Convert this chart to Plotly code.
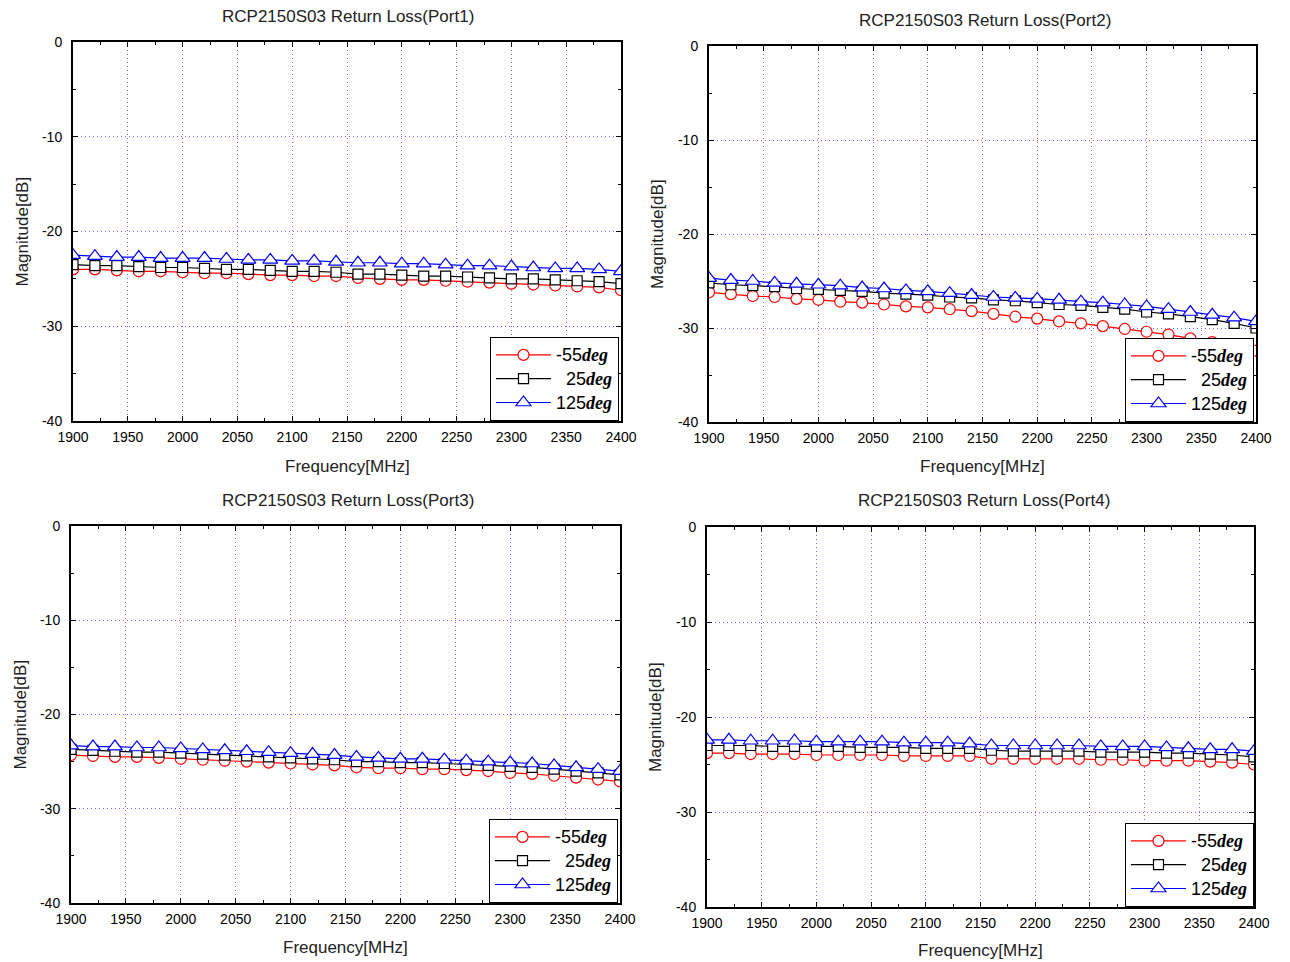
import plotly.graph_objects as go

freq = [1900, 1920, 1940, 1960, 1980, 2000, 2020, 2040, 2060, 2080, 2100, 2120, 2140,
        2160, 2180, 2200, 2220, 2240, 2260, 2280, 2300, 2320, 2340, 2360, 2380, 2400]

p1_m55 = [-24.0, -24.0, -24.1, -24.2, -24.2, -24.3, -24.4, -24.4, -24.5, -24.6, -24.6, -24.7, -24.7,
          -24.9, -25.0, -25.1, -25.1, -25.2, -25.3, -25.4, -25.5, -25.6, -25.7, -25.8, -25.9, -26.2]
p1_25 = [-23.5, -23.6, -23.6, -23.7, -23.8, -23.8, -23.9, -24.0, -24.0, -24.1, -24.2, -24.2, -24.3,
         -24.5, -24.5, -24.6, -24.7, -24.7, -24.8, -24.9, -25.0, -25.0, -25.1, -25.2, -25.3, -25.5]
p1_125 = [-22.5, -22.6, -22.7, -22.7, -22.8, -22.8, -22.8, -22.9, -23.0, -23.0, -23.1, -23.1, -23.2,
          -23.3, -23.3, -23.4, -23.4, -23.5, -23.6, -23.6, -23.7, -23.8, -23.9, -23.9, -24.0, -24.2]

p2_m55 = [-26.2, -26.4, -26.6, -26.7, -26.9, -27.0, -27.2, -27.3, -27.5, -27.7, -27.8, -28.0, -28.2,
          -28.5, -28.8, -29.0, -29.3, -29.5, -29.8, -30.1, -30.4, -30.7, -31.1, -31.5, -31.9, -32.4]
p2_25 = [-25.2, -25.4, -25.5, -25.6, -25.8, -25.9, -26.0, -26.1, -26.3, -26.4, -26.5, -26.7, -26.8,
         -27.0, -27.1, -27.3, -27.5, -27.6, -27.8, -28.0, -28.3, -28.5, -28.8, -29.1, -29.5, -30.0]
p2_125 = [-24.7, -24.9, -25.0, -25.2, -25.3, -25.4, -25.5, -25.7, -25.8, -26.0, -26.1, -26.3, -26.5,
          -26.7, -26.8, -26.9, -27.0, -27.2, -27.3, -27.5, -27.7, -28.0, -28.3, -28.6, -28.9, -29.3]

p3_m55 = [-24.3, -24.4, -24.5, -24.5, -24.6, -24.7, -24.8, -24.9, -25.0, -25.1, -25.2, -25.3, -25.4,
          -25.6, -25.7, -25.7, -25.8, -25.8, -25.9, -26.0, -26.2, -26.3, -26.5, -26.7, -26.9, -27.1]
p3_25 = [-23.7, -23.8, -23.9, -24.0, -24.0, -24.1, -24.2, -24.3, -24.4, -24.5, -24.6, -24.7, -24.8,
         -25.0, -25.0, -25.1, -25.1, -25.2, -25.3, -25.4, -25.5, -25.6, -25.8, -26.0, -26.2, -26.4]
p3_125 = [-23.3, -23.4, -23.4, -23.5, -23.5, -23.6, -23.7, -23.8, -23.9, -24.0, -24.1, -24.2, -24.3,
          -24.5, -24.6, -24.7, -24.7, -24.8, -24.9, -25.0, -25.1, -25.2, -25.4, -25.6, -25.8, -26.0]

p4_m55 = [-23.8, -23.8, -23.9, -23.9, -23.9, -24.0, -24.0, -24.0, -24.0, -24.1, -24.1, -24.1, -24.1,
          -24.4, -24.4, -24.4, -24.4, -24.4, -24.5, -24.5, -24.6, -24.6, -24.6, -24.7, -24.8, -25.0]
p4_25 = [-23.0, -23.0, -23.0, -23.1, -23.1, -23.1, -23.1, -23.2, -23.2, -23.2, -23.3, -23.3, -23.3,
         -23.5, -23.6, -23.6, -23.6, -23.6, -23.7, -23.7, -23.7, -23.8, -23.8, -23.9, -24.0, -24.2]
p4_125 = [-22.4, -22.4, -22.5, -22.5, -22.5, -22.6, -22.6, -22.6, -22.6, -22.7, -22.7, -22.7, -22.8,
          -23.0, -23.0, -23.0, -23.0, -23.0, -23.1, -23.1, -23.1, -23.2, -23.3, -23.4, -23.4, -23.6]

titles = ["RCP2150S03 Return Loss(Port1)", "RCP2150S03 Return Loss(Port2)",
          "RCP2150S03 Return Loss(Port3)", "RCP2150S03 Return Loss(Port4)"]
temp_labels = ["-55", "\u200725", "125"]
x_tickvals = [1900, 1950, 2000, 2050, 2100, 2150, 2200, 2250, 2300, 2350, 2400]
x_ticktext = ["1900", "1950", "2000", "2050", "2100", "2150", "2200", "2250", "2300", "2350", "2400"]
y_tickvals = [0, -10, -20, -30, -40]
y_ticktext = ["0", "-10", "-20", "-30", "-40"]

panels = [(p1_m55, p1_25, p1_125), (p2_m55, p2_25, p2_125),
          (p3_m55, p3_25, p3_125), (p4_m55, p4_25, p4_125)]

# the page body has an 8px margin, so the figure starts at (8, 8) of the window
OFF = 8
W, H = 1290 - OFF, 962 - OFF
# plot-area boxes in window pixels: left, right, top, bottom
boxes = [(73, 621, 42, 421), (709, 1256, 46, 422), (71, 620, 526, 903), (707, 1254, 527, 907)]
title_pos = [(348, 16), (985, 21), (348, 500), (984, 500)]
xtitle_y = [466, 466, 947, 950]
ytitle_x = [22, 657, 20, 655]
legend_box = [(619, 421), (1254, 422), (618, 903), (1254, 907)]


def px(x):
    return (x - OFF) / W


def py(y):
    return 1 - (y - OFF) / H


styles = [
    dict(color="#ff0000", symbol="circle", size=11),
    dict(color="#000000", symbol="square", size=10),
    dict(color="#0000ff", symbol="triangle-up", size=13),
]

fig = go.Figure()
FONT = "Liberation Sans, Arial, sans-serif"
layout = dict(width=W, height=H, margin=dict(l=0, r=0, t=0, b=0, autoexpand=False),
              paper_bgcolor="white", plot_bgcolor="white", annotations=[])

for i, series in enumerate(panels):
    n = i + 1
    xa = "x" if n == 1 else f"x{n}"
    ya = "y" if n == 1 else f"y{n}"
    leg = "legend" if n == 1 else f"legend{n}"
    for k, vals in enumerate(series):
        st = styles[k]
        name = ("<span style='font-size:18px'>" + temp_labels[k] +
                "<b><i><span style='font-family:Liberation Serif, Times New Roman, serif'>deg</span></i></b></span>")
        fig.add_trace(go.Scatter(
            x=freq, y=vals, mode="lines+markers", name=name,
            xaxis=xa, yaxis=ya, legend=leg,
            line=dict(color=st["color"], width=1.2),
            marker=dict(symbol=st["symbol"], size=st["size"], color="white",
                        line=dict(color=st["color"], width=1.2)),
        ))
    l, r, t, b = boxes[i]
    xd = [px(l), px(r)]
    yd = [py(b), py(t)]
    axcommon = dict(showline=True, linecolor="black", linewidth=2, mirror="allticks",
                    ticks="inside", ticklen=5, tickcolor="black", tickwidth=1,
                    showgrid=True, gridcolor="#6666ff", gridwidth=1, griddash="1px,3px",
                    zeroline=False, automargin=False,
                    tickfont=dict(family=FONT, size=14, color="black"))
    layout["xaxis" if n == 1 else f"xaxis{n}"] = dict(
        domain=xd, anchor=ya, range=[1900, 2400], tickvals=x_tickvals, ticktext=x_ticktext,
        ticklabelstandoff=2,
        minor=dict(dtick=25, ticks="inside", ticklen=3, tickcolor="black", showgrid=False),
        **axcommon)
    layout["yaxis" if n == 1 else f"yaxis{n}"] = dict(
        domain=yd, anchor=xa, range=[-40, 0], tickvals=y_tickvals, ticktext=y_ticktext,
        ticklabelstandoff=6,
        minor=dict(dtick=5, ticks="inside", ticklen=3, tickcolor="black", showgrid=False),
        **axcommon)
    lx, ly = legend_box[i]
    layout[leg] = dict(x=px(lx), y=py(ly), xanchor="right", yanchor="bottom",
                       bgcolor="white", bordercolor="black", borderwidth=1,
                       font=dict(family=FONT, size=16, color="black"),
                       itemwidth=55, tracegroupgap=0)
    tx, ty = title_pos[i]
    layout["annotations"].append(dict(
        text=titles[i], x=px(tx), y=py(ty), xref="paper", yref="paper",
        showarrow=False, xanchor="center", yanchor="middle",
        font=dict(family=FONT, size=17, color="#222222")))
    layout["annotations"].append(dict(
        text="Frequency[MHz]", x=px((l + r) / 2), y=py(xtitle_y[i]),
        xref="paper", yref="paper", showarrow=False, xanchor="center", yanchor="middle",
        font=dict(family=FONT, size=17, color="#222222")))
    layout["annotations"].append(dict(
        text="Magnitude[dB]", x=px(ytitle_x[i]), y=py((t + b) / 2), textangle=-90,
        xref="paper", yref="paper", showarrow=False, xanchor="center", yanchor="middle",
        font=dict(family=FONT, size=17, color="#222222")))

fig.update_layout(**layout)
fig.write_html("out.html")
